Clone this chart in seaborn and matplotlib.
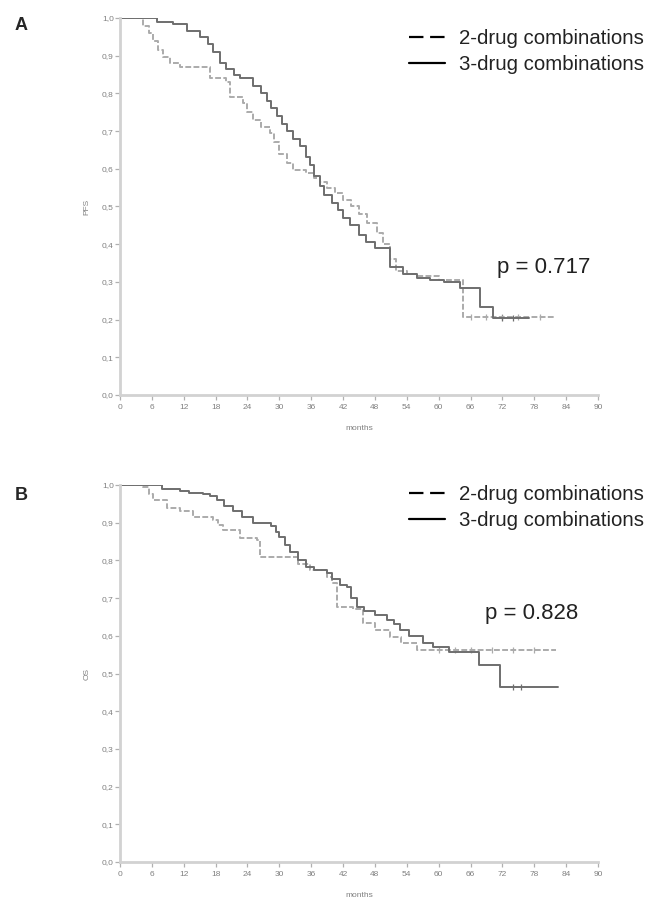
import numpy as np
import pandas as pd
import matplotlib.pyplot as plt
import seaborn as sns
from matplotlib.lines import Line2D

sns.set_style("white")
plt.rcParams['font.family'] = ['Liberation Sans', 'DejaVu Sans']

# --- PFS (panel A) ---
pfs2_t = [0, 4.4, 5.5, 6.3, 7.2, 8.1, 9.5, 11.3, 17, 20, 20.7, 23.2, 24, 25, 26.5, 28.2, 29, 30,
          31.5, 32.6, 35.1, 36.5, 37.6, 39, 40.5, 42, 43.5, 45, 46.5, 48.3, 49.5, 50.8, 52, 54,
          56, 60, 64.5, 82]
pfs2_s = [1.0, 0.98, 0.96, 0.94, 0.915, 0.897, 0.88, 0.87, 0.84, 0.83, 0.79, 0.774, 0.75, 0.73,
          0.71, 0.695, 0.67, 0.64, 0.615, 0.597, 0.59, 0.575, 0.565, 0.55, 0.535, 0.517, 0.50,
          0.48, 0.455, 0.43, 0.40, 0.36, 0.33, 0.32, 0.315, 0.305, 0.207, 0.207]
pfs3_t = [0, 7, 10, 12.6, 15, 16.5, 17.5, 18.8, 20, 21.5, 22.6, 25, 26.5, 27.6, 28.5, 29.5, 30.5,
          31.4, 32.5, 33.9, 35, 35.7, 36.6, 37.6, 38.5, 40, 41, 42, 43.3, 45, 46.4, 48, 50.8,
          53.2, 56, 58.3, 61, 64, 67.7, 70.2, 77]
pfs3_s = [1.0, 0.99, 0.985, 0.965, 0.95, 0.93, 0.91, 0.88, 0.865, 0.85, 0.84, 0.82, 0.80, 0.78,
          0.76, 0.74, 0.72, 0.70, 0.68, 0.66, 0.63, 0.61, 0.58, 0.555, 0.53, 0.51, 0.49, 0.47,
          0.45, 0.425, 0.405, 0.39, 0.34, 0.32, 0.31, 0.305, 0.30, 0.284, 0.233, 0.204, 0.204]
pfs2_cens = [66, 69, 72, 75, 79]
pfs3_cens = [72, 74]

# --- OS (panel B) ---
os2_t = [0, 4.4, 5.5, 6.3, 8.8, 11.3, 13.8, 17.5, 18.5, 19.4, 22.6, 25.8, 26.3, 33.5, 35.7,
         38.9, 40, 40.8, 43.8, 45.7, 48, 50.8, 53, 55.9, 82]
os2_s = [1.0, 0.995, 0.975, 0.96, 0.94, 0.93, 0.915, 0.907, 0.895, 0.88, 0.86, 0.854, 0.809,
         0.79, 0.775, 0.756, 0.74, 0.676, 0.67, 0.634, 0.615, 0.597, 0.58, 0.562, 0.562]
os3_t = [0, 8, 11.3, 13, 15.7, 17, 18.2, 19.5, 21.3, 23, 25, 28.5, 29.3, 30, 31, 32, 33.5, 35.1,
         36.5, 38.9, 40, 41.5, 42.7, 43.5, 44.6, 46, 48, 50.2, 51.5, 52.7, 54.5, 57, 59, 62,
         67.5, 71.5, 82.4]
os3_s = [1.0, 0.99, 0.985, 0.98, 0.975, 0.97, 0.96, 0.945, 0.93, 0.915, 0.90, 0.89, 0.875,
         0.862, 0.84, 0.822, 0.80, 0.783, 0.775, 0.767, 0.75, 0.735, 0.73, 0.70, 0.676, 0.665,
         0.655, 0.642, 0.63, 0.615, 0.60, 0.58, 0.57, 0.557, 0.522, 0.464, 0.464]
os2_cens = [60, 63, 66, 70, 74, 78]
os3_cens = [74, 75.5]

x_ticks = list(range(0, 91, 6))
y_ticks = [i / 10 for i in range(11)]
y_labels = [f"{v:.1f}".replace(".", ",") for v in y_ticks]
legend_labels = ["2-drug combinations", "3-drug combinations"]

col2 = "#ababab"
col3 = "#6e6e6e"

fig = plt.figure(figsize=(6.46, 9.01), dpi=100)
ax_a = fig.add_axes([120 / 646, 1 - 395 / 901, 478 / 646, 377 / 901])
ax_b = fig.add_axes([120 / 646, 1 - 862 / 901, 478 / 646, 377 / 901])


def step_value(ts, ss, x):
    idx = np.searchsorted(ts, x, side="right") - 1
    return ss[idx]


def km_panel(ax, t2, s2, t3, s3, c2, c3, ylab):
    d2 = pd.DataFrame({"t": t2, "s": s2})
    d3 = pd.DataFrame({"t": t3, "s": s3})
    sns.lineplot(data=d2, x="t", y="s", ax=ax, color=col2, lw=1.4,
                 linestyle=(0, (3, 1.2)), drawstyle="steps-post", estimator=None)
    sns.lineplot(data=d3, x="t", y="s", ax=ax, color=col3, lw=1.4,
                 drawstyle="steps-post", estimator=None)
    ax.scatter(c2, [step_value(t2, s2, c) for c in c2], marker="|", s=14, color=col2, lw=0.9)
    ax.scatter(c3, [step_value(t3, s3, c) for c in c3], marker="|", s=14, color=col3, lw=0.9)
    ax.set_xlim(0, 90)
    ax.set_ylim(0, 1.0)
    ax.set_xticks(x_ticks)
    ax.set_xticklabels([str(v) for v in x_ticks])
    ax.set_yticks(y_ticks)
    ax.set_yticklabels(y_labels)
    ax.tick_params(axis="both", labelsize=6, labelcolor="#808080", color="#b0b0b0",
                   length=3.5, width=0.9, direction="out", pad=1, bottom=True, left=True)
    ax.tick_params(axis="x", pad=3)
    for side in ["top", "right"]:
        ax.spines[side].set_visible(False)
    for side in ["left", "bottom"]:
        ax.spines[side].set_color("#d2d2d2")
        ax.spines[side].set_linewidth(2)
    ax.set_xlabel("months", fontsize=6, color="#808080", labelpad=10)
    ax.set_ylabel(ylab, fontsize=6, color="#808080", labelpad=8)
    ax.patch.set_alpha(0)


km_panel(ax_a, pfs2_t, pfs2_s, pfs3_t, pfs3_s, pfs2_cens, pfs3_cens, "PFS")
km_panel(ax_b, os2_t, os2_s, os3_t, os3_s, os2_cens, os3_cens, "OS")

handles = [Line2D([0], [0], color="black", lw=1.6, linestyle=(0, (6.5, 3))),
           Line2D([0], [0], color="black", lw=1.6)]
for ytop in [29 / 901, 485 / 901]:
    fig.legend(handles, legend_labels, loc="upper left",
               bbox_to_anchor=(409 / 646, 1 - ytop), frameon=False, fontsize=14.7,
               handlelength=1.75, handletextpad=0.7, labelspacing=0.35,
               borderpad=0, borderaxespad=0, labelcolor="#222222")

fig.text(497 / 646, 1 - 268 / 901, "p = 0.717", fontsize=16, va="center", ha="left",
         color="#222222")
fig.text(485 / 646, 1 - 613 / 901, "p = 0.828", fontsize=16, va="center", ha="left",
         color="#222222")

fig.text(15 / 646, 1 - 25 / 901, "A", fontsize=13, fontweight="bold", va="center")
fig.text(15 / 646, 1 - 496 / 901, "B", fontsize=13, fontweight="bold", va="center")

fig.savefig("out.png", dpi=100)
plt.close(fig)
